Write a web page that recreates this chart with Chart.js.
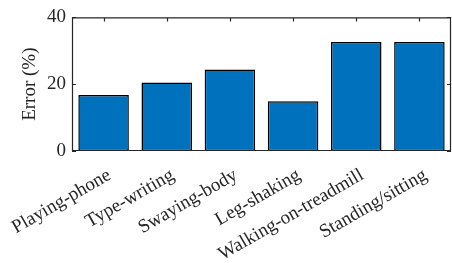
<!DOCTYPE html>
<html>
<head>
<meta charset="utf-8">
<script src="https://cdn.jsdelivr.net/npm/chart.js@4"></script>
<style>
  html, body { margin: 0; padding: 0; background: #fff; }
  #wrap { width: 452px; height: 263px; }
</style>
</head>
<body>
<div id="wrap"><canvas id="errChart" width="452" height="263"></canvas></div>
<script>
const activities = ["Playing-phone", "Type-writing", "Swaying-body", "Leg-shaking", "Walking-on-treadmill", "Standing/sitting"];
const errorValues = [16.8, 20.5, 24.4, 14.9, 32.6, 32.6];
const yTicks = [0, 20, 40];

const axisColor = "#262626";

// matlab style box with inward ticks
const boxPlugin = {
  id: "box",
  afterDatasetsDraw(chart) {
    const { ctx, chartArea: a, scales } = chart;
    ctx.save();
    ctx.strokeStyle = axisColor;
    ctx.lineWidth = 1.2;
    ctx.beginPath();
    ctx.rect(a.left + 0.5, a.top + 0.5, a.right - a.left - 1, a.bottom - a.top - 1);
    yTicks.forEach(v => {
      const y = Math.round(scales.y.getPixelForValue(v)) + 0.5;
      ctx.moveTo(a.left, y); ctx.lineTo(a.left + 4, y);
      ctx.moveTo(a.right, y); ctx.lineTo(a.right - 4, y);
    });
    activities.forEach((c, i) => {
      const x = Math.round(scales.x.getPixelForValue(i)) + 0.5;
      ctx.moveTo(x, a.top); ctx.lineTo(x, a.top + 4);
    });
    ctx.stroke();
    ctx.restore();
  }
};

const ctx = document.getElementById("errChart").getContext("2d");
new Chart(ctx, {
  type: "bar",
  data: {
    labels: activities,
    datasets: [{
      data: errorValues,
      backgroundColor: "#0072BD",
      borderColor: "#000000",
      borderWidth: 1.5,
      borderSkipped: false,
      categoryPercentage: 1,
      barPercentage: 0.8
    }]
  },
  options: {
    responsive: false,
    animation: false,
    layout: { padding: { top: 12, right: 1, left: 0, bottom: 0 } },
    plugins: { legend: { display: false }, tooltip: { enabled: false } },
    scales: {
      x: {
        grid: { display: false, drawTicks: false },
        border: { display: false },
        ticks: {
          color: axisColor,
          font: { family: "Liberation Serif", size: 19 },
          minRotation: 30,
          maxRotation: 30,
          padding: 13,
          labelOffset: 6,
          autoSkip: false
        },
        afterFit(scale) {
          scale.height = 112;
          scale.paddingLeft = 0;
          scale.paddingRight = 0;
        }
      },
      y: {
        min: 0,
        max: 40,
        grid: { display: false, drawTicks: false },
        border: { display: false },
        ticks: {
          color: axisColor,
          font: { family: "Liberation Serif", size: 19 },
          stepSize: 20,
          padding: 6
        },
        title: {
          display: true,
          text: "Error (%)",
          color: axisColor,
          font: { family: "Liberation Serif", size: 19 },
          padding: { top: 19, bottom: 0 }
        },
        afterFit(scale) { scale.width = 72; }
      }
    }
  },
  plugins: [boxPlugin]
});
</script>
</body>
</html>
